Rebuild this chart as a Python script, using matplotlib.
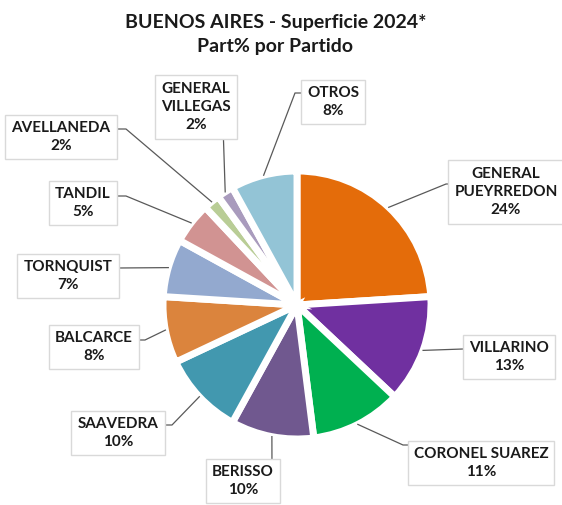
"""Surface share by partido for Buenos Aires, 2024 campaign."""

import matplotlib.pyplot as plt
import numpy as np

plt.rcParams["font.family"] = ["Lato", "DejaVu Sans"]

partidos = [
    "GENERAL\nPUEYRREDON", "VILLARINO", "CORONEL SUAREZ", "BERISSO", "SAAVEDRA",
    "BALCARCE", "TORNQUIST", "TANDIL", "AVELLANEDA", "GENERAL\nVILLEGAS", "OTROS",
]
share_pct = [24, 13, 11, 10, 10, 8, 7, 5, 2, 2, 8]
colors = [
    "#E46C0A", "#7030A0", "#00B050", "#70588F", "#4298AF",
    "#DB843D", "#93A9CF", "#D19392", "#B9CD96", "#A99BBD", "#93C4D6",
]

# Layout in pixels from the top-left corner of the figure
W, H = 562, 505
label_pos = [(506, 192), (509, 357), (481, 463), (243, 481), (118, 433), (94, 347),
             (68, 276), (83, 203), (61, 137), (196, 107), (333, 102)]
elbow_pos = [(446, 184), (463, 349), (403, 445), (272, 475), (172, 425), (145, 340),
             (118, 268), (126, 196), (126, 129), (223, 125), (295, 93)]


def plot_share_pie(out_path: str = "out.png") -> None:
    """Draw the pie with boxed labels and leader lines, then save it.

    Args:
        out_path: File the figure is written to.
    """
    fig = plt.figure(figsize=(W / 100, H / 100), dpi=100)
    ax = fig.add_axes([0, 0, 1, 1])

    wedges, _ = ax.pie(
        share_pct,
        colors=colors,
        startangle=90,
        counterclock=False,
        radius=134,
        center=(297, H - 305),
        wedgeprops=dict(edgecolor="white", linewidth=5),
    )

    for wedge, name, pct, (lx, ly), (ex, ey) in zip(
        wedges, partidos, share_pct, label_pos, elbow_pos
    ):
        # Leader line starts on the rim at the middle of the wedge
        mid = np.deg2rad((wedge.theta1 + wedge.theta2) / 2)
        ax_x = wedge.center[0] + wedge.r * np.cos(mid)
        ax_y = wedge.center[1] + wedge.r * np.sin(mid)
        ax.plot([ax_x, ex, lx], [ax_y, H - ey, H - ey], color="#595959", lw=0.9, zorder=3)
        ax.text(
            lx, H - ly, f"{name}\n{pct}%",
            ha="center", va="center", fontsize=11, fontweight="bold",
            color="#1A1A1A", linespacing=1.4, zorder=4,
            bbox=dict(boxstyle="square,pad=0.4", fc="white", ec="#D9D9D9", lw=1),
        )

    ax.set_xlim(0, W)
    ax.set_ylim(0, H)
    ax.set_aspect("equal")
    ax.axis("off")

    fig.text(0.49, 0.972, "BUENOS AIRES - Superficie 2024*\nPart% por Partido",
             ha="center", va="top", fontsize=14, fontweight="bold",
             color="#1A1A1A", linespacing=1.5)

    fig.savefig(out_path, dpi=100)


plot_share_pie()
